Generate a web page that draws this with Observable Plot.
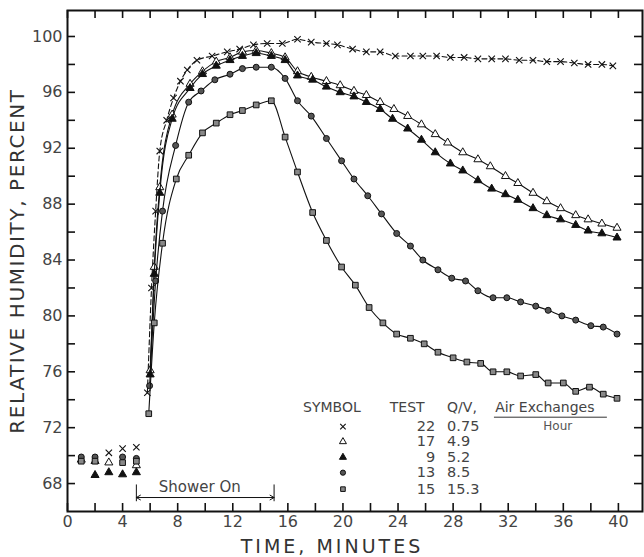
<!DOCTYPE html>
<html><head><meta charset="utf-8">
<script src="https://cdn.jsdelivr.net/npm/d3@7"></script>
<script src="https://cdn.jsdelivr.net/npm/@observablehq/plot@0.6"></script>
<style>
body{margin:0;background:#fff}
#chart{width:644px;height:557px}
</style>
</head><body><div id="chart"></div>
<script>
// ---- Data (time in minutes, relative humidity %) ----
const preTime = [1, 2, 3, 4, 5];
const pre22 = [null, null, 70.2, 70.5, 70.6];
const pre17 = [69.7, 69.6, 69.5, null, 69.3];
const pre9  = [null, 68.6, 68.8, 68.65, 68.8];
const pre13 = [69.9, 69.9, null, 69.9, 69.8];
const pre15 = [69.6, 69.6, null, 69.5, 69.6];

const time22 = [5.8, 6.1, 6.4, 6.7, 7.2, 7.7, 8.2, 8.7, 9.4, 10.5, 11.6, 12.5, 13.5, 14.5, 15.6, 16.7, 17.7, 18.8, 19.6, 20.7, 21.7, 22.7, 23.8, 24.9, 25.8, 26.8, 27.8, 28.8, 29.8, 30.8, 31.8, 32.8, 33.8, 34.8, 35.8, 36.8, 37.8, 38.8, 39.6];
const rh22   = [74.5, 82, 87.5, 91.8, 94.0, 95.6, 96.8, 97.6, 98.3, 98.6, 98.9, 99.1, 99.4, 99.5, 99.5, 99.8, 99.6, 99.5, 99.4, 99.1, 98.9, 98.9, 98.6, 98.6, 98.6, 98.6, 98.5, 98.5, 98.4, 98.4, 98.4, 98.3, 98.3, 98.2, 98.2, 98.1, 98.0, 98.0, 97.9];

const time17 = [6.0, 6.3, 6.7, 7.6, 8.9, 9.8, 10.8, 11.8, 12.7, 13.7, 14.8, 15.8, 16.7, 17.7, 18.8, 19.8, 20.8, 21.7, 22.7, 23.7, 24.7, 25.7, 26.7, 27.6, 28.7, 29.8, 30.7, 31.8, 32.7, 33.8, 34.8, 35.8, 36.9, 37.8, 38.8, 39.9];
const rh17   = [76.1, 83.5, 89.2, 94.4, 96.6, 97.5, 98.2, 98.5, 98.9, 99.0, 98.8, 98.5, 97.5, 97.1, 96.8, 96.5, 96.1, 95.8, 95.3, 94.8, 94.3, 93.7, 93.0, 92.4, 91.7, 91.2, 90.7, 90.0, 89.5, 88.8, 88.2, 87.7, 87.2, 86.9, 86.6, 86.3];

const time9 = [6.0, 6.3, 6.7, 7.6, 8.9, 9.8, 10.8, 11.8, 12.7, 13.7, 14.8, 15.8, 16.7, 17.8, 18.8, 19.8, 20.8, 21.7, 22.7, 23.6, 24.7, 25.7, 26.7, 27.8, 28.7, 29.8, 30.8, 31.8, 32.7, 33.8, 34.8, 35.8, 36.9, 37.8, 38.8, 39.9];
const rh9   = [75.8, 83, 88.8, 94.1, 96.3, 97.3, 97.9, 98.3, 98.6, 98.8, 98.6, 98.3, 97.2, 96.9, 96.4, 96.0, 95.7, 95.3, 94.8, 94.1, 93.4, 92.6, 91.7, 90.9, 90.4, 89.7, 89.1, 88.7, 88.3, 87.7, 87.2, 86.9, 86.5, 86.1, 85.9, 85.6];

const time13 = [5.96, 6.4, 6.9, 7.85, 8.8, 9.7, 10.7, 11.8, 12.7, 13.7, 14.8, 15.8, 16.7, 17.7, 18.8, 19.9, 20.8, 21.8, 22.8, 23.9, 24.9, 25.8, 26.9, 27.9, 28.9, 29.8, 30.9, 31.9, 32.9, 34.0, 34.9, 35.9, 36.9, 38.0, 38.9, 39.9];
const rh13   = [75.0, 82.5, 87.5, 92.2, 95.3, 96.1, 96.9, 97.3, 97.7, 97.8, 97.8, 97.0, 95.4, 94.3, 92.7, 91.1, 89.8, 88.6, 87.3, 85.9, 85.0, 84.0, 83.3, 82.7, 82.5, 81.8, 81.3, 81.3, 81.0, 80.7, 80.4, 80.0, 79.7, 79.3, 79.2, 78.7];

const time15 = [5.9, 6.3, 6.9, 7.9, 8.8, 9.8, 10.8, 11.8, 12.7, 13.7, 14.8, 15.8, 16.7, 17.8, 18.8, 19.9, 20.9, 21.9, 22.9, 23.9, 24.9, 25.9, 26.9, 28.0, 29.0, 30.0, 30.9, 31.9, 32.9, 34.0, 34.9, 36.0, 36.9, 37.9, 38.9, 39.9];
const rh15   = [73.0, 79.5, 85.2, 89.8, 91.5, 93.1, 93.8, 94.4, 94.7, 95.1, 95.4, 92.8, 90.3, 87.4, 85.4, 83.5, 82.2, 80.6, 79.5, 78.7, 78.4, 78.0, 77.4, 77.0, 76.7, 76.6, 76.0, 76.0, 75.7, 75.8, 75.2, 75.2, 74.6, 74.9, 74.4, 74.1];

// legend table
const legendTest = ["22", "17", "9", "13", "15"];
const legendQV   = ["0.75", "4.9", "5.2", "8.5", "15.3"];

// shower interval (minutes)
const showerStart = 5, showerEnd = 15;

// axis ticks
const xLabelTicks = [0, 4, 8, 12, 16, 20, 24, 28, 32, 36, 40];
const xMinorTicks = [0, 2, 4, 6, 8, 10, 12, 14, 16, 18, 20, 22, 24, 26, 28, 30, 32, 34, 36, 38, 40];
const yLabelTicks = [68, 72, 76, 80, 84, 88, 92, 96, 100];
const yMinorTicks = [68, 70, 72, 74, 76, 78, 80, 82, 84, 86, 88, 90, 92, 94, 96, 98, 100];

// ---- layout ----
const W = 644, H = 557, mL = 67, mR = 2, mT = 10, mB = 46;
const plotW = W - mL - mR, plotH = H - mT - mB;
const xDom = [0, 41.75], yDom = [66, 101.86];
const tickLen = 8;

// ---- build tables ----
const ink = "#111";
const styles = {
  "22": {symbol: "times", fill: "none", stroke: ink, r: 3, strokeWidth: 1.1},
  "17": {symbol: "triangle", fill: "white", stroke: ink, r: 3, strokeWidth: 1},
  "9":  {symbol: "triangle", fill: ink, stroke: ink, r: 3, strokeWidth: 1},
  "13": {symbol: "circle", fill: "#555", stroke: ink, r: 3, strokeWidth: 1},
  "15": {symbol: "square", fill: "#888", stroke: ink, r: 3.2, strokeWidth: 1}
};
function rows(time, rh) { return time.map((t, i) => ({time: t, rh: rh[i]})); }
function preRows(vals) { return preTime.map((t, i) => ({time: t, rh: vals[i]})).filter(d => d.rh != null); }
const series = [
  {id: "22", main: rows(time22, rh22), pre: preRows(pre22), dash: "5,3"},
  {id: "17", main: rows(time17, rh17), pre: preRows(pre17), dash: null},
  {id: "9",  main: rows(time9, rh9),   pre: preRows(pre9),   dash: null},
  {id: "13", main: rows(time13, rh13), pre: preRows(pre13), dash: null},
  {id: "15", main: rows(time15, rh15), pre: preRows(pre15), dash: null}
];

const marks = [];
marks.push(Plot.frame({stroke: ink, strokeWidth: 2, fill: "none"}));
// inward ticks on all four sides
marks.push(Plot.tickX(xMinorTicks, {x: d => d, insetTop: plotH - tickLen, stroke: ink, strokeWidth: 1.6}));
marks.push(Plot.tickX(xMinorTicks, {x: d => d, insetBottom: plotH - tickLen, stroke: ink, strokeWidth: 1.6}));
marks.push(Plot.tickY(yMinorTicks, {y: d => d, insetRight: plotW - tickLen, stroke: ink, strokeWidth: 1.6}));
marks.push(Plot.tickY(yMinorTicks, {y: d => d, insetLeft: plotW - tickLen, stroke: ink, strokeWidth: 1.6}));
// tick labels
marks.push(Plot.axisY(yLabelTicks, {anchor: "left", tickSize: 0, tickPadding: 5, fontSize: 16, label: null, fill: "#444"}));
marks.push(Plot.axisX(xLabelTicks, {anchor: "bottom", tickSize: 0, tickPadding: 4, fontSize: 16, label: null, fill: "#444"}));

// series
for (const s of series) {
  const st = styles[s.id];
  marks.push(Plot.line(s.main, {x: "time", y: "rh", curve: "monotone-x", stroke: ink, strokeWidth: 1.1, strokeDasharray: s.dash}));
  marks.push(Plot.dot(s.main.concat(s.pre), {x: "time", y: "rh", ...st}));
}

// shower annotation
marks.push(Plot.ruleX([showerStart, showerEnd], {y1: 66.7, y2: 67.9, stroke: ink, strokeWidth: 1}));
marks.push(Plot.arrow([{a: (showerStart + showerEnd) / 2, b: showerStart}, {a: (showerStart + showerEnd) / 2, b: showerEnd}],
  {x1: "a", x2: "b", y1: 67.0, y2: 67.0, bend: 0, headLength: 7, stroke: ink, strokeWidth: 1}));
marks.push(Plot.text(["Shower On"], {x: 9.6, y: 67.75, text: d => d, fontSize: 15, fill: "#444"}));

// legend table
const rowY = [72.08, 71.0, 69.88, 68.78, 67.6];
marks.push(Plot.text(["SYMBOL"], {x: 17.1, y: 73.44, text: d => d, textAnchor: "start", fontSize: 14, fill: "#444"}));
marks.push(Plot.text(["TEST"], {x: 23.4, y: 73.44, text: d => d, textAnchor: "start", fontSize: 14, fill: "#444"}));
marks.push(Plot.text(["Q/V,"], {x: 27.56, y: 73.44, text: d => d, textAnchor: "start", fontSize: 14, fill: "#444"}));
marks.push(Plot.text(["Air Exchanges"], {x: 31.05, y: 73.44, text: d => d, textAnchor: "start", fontSize: 14, fill: "#444"}));
marks.push(Plot.ruleY([72.75], {x1: 31.0, x2: 39.2, stroke: "#333", strokeWidth: 1}));
marks.push(Plot.text(["Hour"], {x: 35.6, y: 72.08, text: d => d, fontSize: 12, fill: "#555"}));
series.forEach((s, i) => {
  marks.push(Plot.dot([i], {x: 20.0, y: d => rowY[d], ...styles[s.id], r: 2.6}));
});
marks.push(Plot.text(legendTest, {x: 26.7, y: (d, i) => rowY[i], text: d => d, textAnchor: "end", fontSize: 14.5, fill: "#444"}));
marks.push(Plot.text(legendQV, {x: 27.56, y: (d, i) => rowY[i], text: d => d, textAnchor: "start", fontSize: 14.5, fill: "#444"}));

// axis titles
const yTitle = "RELATIVE HUMIDITY, PERCENT", xTitle = "TIME, MINUTES";
marks.push(Plot.text([yTitle], {frameAnchor: "left", dx: -50, rotate: -90, textAnchor: "middle", lineAnchor: "middle", text: d => d, fontSize: 20, fill: "#333"}));
marks.push(Plot.text([xTitle], {frameAnchor: "bottom", dy: 35, dx: -23, textAnchor: "middle", lineAnchor: "middle", text: d => d, fontSize: 19, fill: "#333"}));

const chart = Plot.plot({
  width: W,
  height: H,
  marginLeft: mL,
  marginRight: mR,
  marginTop: mT,
  marginBottom: mB,
  style: {fontFamily: "DejaVu Sans", background: "#fff", color: ink},
  x: {domain: xDom, axis: null},
  y: {domain: yDom, axis: null},
  marks
});
// widen the lettering of the axis titles, as in the reference
d3.select(chart).selectAll("text").each(function() {
  const t = this.textContent;
  if (t === yTitle) d3.select(this).attr("letter-spacing", 1.6);
  if (t === xTitle) d3.select(this).attr("letter-spacing", 3);
});
document.getElementById("chart").appendChild(chart);
</script></body></html>
